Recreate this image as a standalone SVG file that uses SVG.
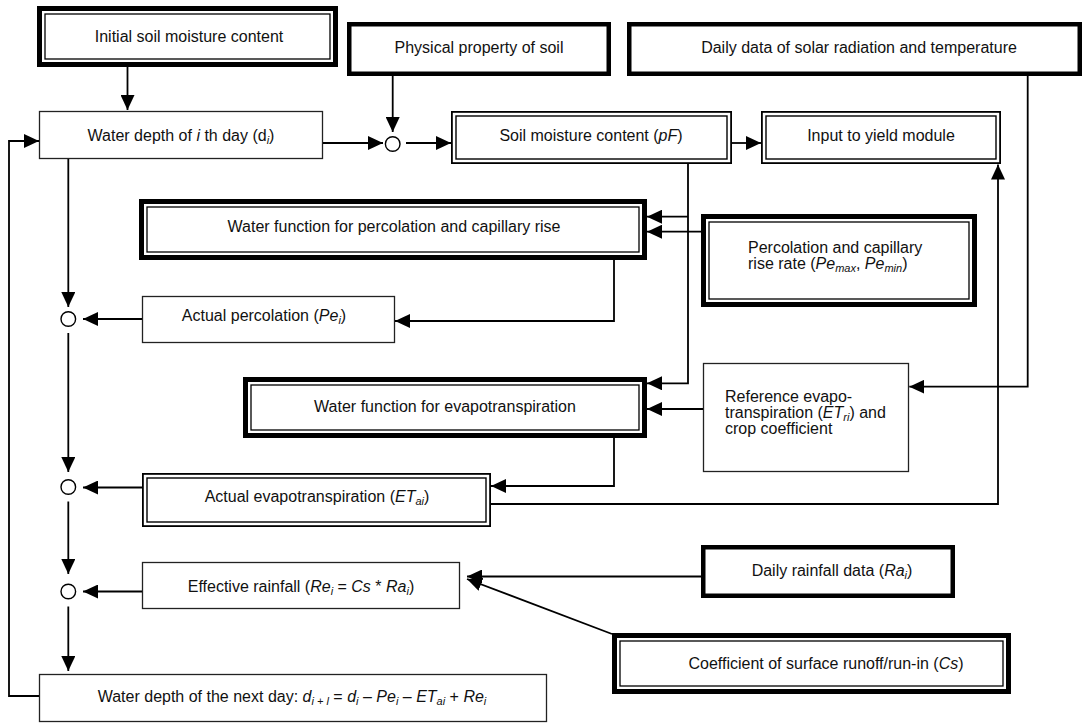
<svg xmlns="http://www.w3.org/2000/svg" width="1085" height="723" viewBox="0 0 1085 723">
<style>
.t{font-family:"Liberation Sans",Arial,sans-serif;font-size:16px;fill:#111;text-anchor:middle}
.l{text-anchor:start}
.i{font-style:italic}
.s{font-size:11px;font-style:italic}
.thin{fill:#fff;stroke:#222;stroke-width:1.3}
.thick{fill:#fff;stroke:#000;stroke-width:4.5}
.tro{fill:#fff;stroke:#000;stroke-width:5}
.tri{fill:none;stroke:#000;stroke-width:1.3}
.dbo{fill:#fff;stroke:#000;stroke-width:1.8}
.dbi{fill:none;stroke:#000;stroke-width:1.4}
.c{fill:none;stroke:#000;stroke-width:1.8;marker-end:url(#ah)}
.j{fill:#fff;stroke:#000;stroke-width:1.4}
</style>
<defs>
<marker id="ah" viewBox="0 0 15 14" refX="15" refY="7" markerWidth="15" markerHeight="14" markerUnits="userSpaceOnUse" orient="auto"><path d="M0,0 L15,7 L0,14 z" fill="#000"/></marker>
</defs>
<rect width="1085" height="723" fill="#fff"/>

<g id="n_initial"><rect class="tro" x="39.5" y="8.5" width="296" height="56"/><rect class="tri" x="45" y="14" width="285" height="45"/><text class="t" x="189" y="42">Initial soil moisture content</text></g>
<g id="n_physical"><rect class="thick" x="349.25" y="24.25" width="259.5" height="49.5"/><text class="t" x="479" y="53">Physical property of soil</text></g>
<g id="n_solar"><rect class="thick" x="629.25" y="24.25" width="450.5" height="49.5"/><text class="t" x="859" y="53">Daily data of solar radiation and temperature</text></g>
<g id="n_depth"><rect class="thin" x="39.5" y="111.5" width="283" height="47"/><text class="t" x="181" y="141">Water depth of <tspan class="i">i</tspan> th day (d<tspan class="s" dy="3">i</tspan><tspan dy="-3">)</tspan></text></g>
<g id="n_soil"><rect class="dbo" x="451.9" y="111.9" width="279.2" height="51.2"/><rect class="dbi" x="456" y="116" width="271" height="43"/><text class="t" x="591" y="141">Soil moisture content (<tspan class="i">pF</tspan>)</text></g>
<g id="n_yield"><rect class="dbo" x="761.9" y="111.9" width="238.2" height="51.2"/><rect class="dbi" x="766" y="116" width="230" height="43"/><text class="t" x="881" y="141">Input to yield module</text></g>
<g id="n_wfperc"><rect class="tro" x="141.5" y="201.5" width="503" height="56"/><rect class="tri" x="147" y="207" width="492" height="45"/><text class="t" x="394" y="232">Water function for percolation and capillary rise</text></g>
<g id="n_percrate"><rect class="tro" x="703.5" y="216.5" width="271" height="88"/><rect class="tri" x="709" y="222" width="260" height="77"/><text class="t l" x="748" y="253">Percolation and capillary</text><text class="t l" x="748" y="269">rise rate (<tspan class="i">Pe</tspan><tspan class="s" dy="3">max</tspan><tspan dy="-3">, </tspan><tspan class="i">Pe</tspan><tspan class="s" dy="3">min</tspan><tspan dy="-3">)</tspan></text></g>
<g id="n_actperc"><rect class="thin" x="142.5" y="296.5" width="252" height="46"/><text class="t" x="264" y="321">Actual percolation (<tspan class="i">Pe</tspan><tspan class="s" dy="3">i</tspan><tspan dy="-3">)</tspan></text></g>
<g id="n_wfet"><rect class="tro" x="245.5" y="379.5" width="399" height="56"/><rect class="tri" x="251" y="385" width="388" height="45"/><text class="t" x="445" y="412">Water function for evapotranspiration</text></g>
<g id="n_ref"><rect class="thin" x="703.5" y="363.5" width="205" height="108"/><text class="t l" x="725" y="402">Reference evapo-</text><text class="t l" x="725" y="418">transpiration (<tspan class="i">ET</tspan><tspan class="s" dy="3">ri</tspan><tspan dy="-3">) and</tspan></text><text class="t l" x="725" y="434">crop coefficient</text></g>
<g id="n_actet"><rect class="dbo" x="142.9" y="473.9" width="347.2" height="52.2"/><rect class="dbi" x="147" y="478" width="339" height="44"/><text class="t" x="317" y="502">Actual evapotranspiration (<tspan class="i">ET</tspan><tspan class="s" dy="3">ai</tspan><tspan dy="-3">)</tspan></text></g>
<g id="n_effrain"><rect class="thin" x="142.5" y="562.5" width="317" height="46"/><text class="t" x="301" y="592">Effective rainfall (<tspan class="i">Re</tspan><tspan class="s" dy="3">i</tspan><tspan dy="-3"> = </tspan><tspan class="i">Cs</tspan> * <tspan class="i">Ra</tspan><tspan class="s" dy="3">i</tspan><tspan dy="-3">)</tspan></text></g>
<g id="n_rainfall"><rect class="thick" x="703.25" y="547.25" width="249.5" height="48.5"/><text class="t" x="832" y="576">Daily rainfall data (<tspan class="i">Ra</tspan><tspan class="s" dy="3">i</tspan><tspan dy="-3">)</tspan></text></g>
<g id="n_coef"><rect class="tro" x="614.5" y="635.5" width="394" height="56"/><rect class="tri" x="620" y="641" width="383" height="45"/><text class="t" x="826" y="669">Coefficient of surface runoff/run-in (<tspan class="i">Cs</tspan>)</text></g>
<g id="n_next"><rect class="thin" x="39.5" y="674.5" width="507" height="47"/><text class="t" x="292" y="702">Water depth of the next day: <tspan class="i">d</tspan><tspan class="s" dy="3">i + l</tspan><tspan dy="-3"> = </tspan><tspan class="i">d</tspan><tspan class="s" dy="3">i</tspan><tspan dy="-3"> – </tspan><tspan class="i">Pe</tspan><tspan class="s" dy="3">i</tspan><tspan dy="-3"> – </tspan><tspan class="i">ET</tspan><tspan class="s" dy="3">ai</tspan><tspan dy="-3"> + </tspan><tspan class="i">Re</tspan><tspan class="s" dy="3">i</tspan></text></g>

<g id="j1"><circle class="j" cx="392.7" cy="144" r="7.3"/></g>
<g id="j2"><circle class="j" cx="68.3" cy="319" r="7.3"/></g>
<g id="j3"><circle class="j" cx="68.3" cy="487" r="7.3"/></g>
<g id="j4"><circle class="j" cx="68.3" cy="591.5" r="7.3"/></g>

<g id="connectors">
<path class="c" d="M127.5,67 V110"/>
<path class="c" d="M392.7,76 V132"/>
<path class="c" d="M323,143 H383"/>
<path class="c" d="M406,143 H451"/>
<path class="c" d="M732,143 H761"/>
<path class="c" d="M688,164 V383.3 H647"/>
<path class="c" d="M688,216.7 H647"/>
<path class="c" d="M701,231.7 H647"/>
<path class="c" d="M614,260 V321 H395"/>
<path class="c" d="M142,319 H83"/>
<path class="c" d="M68.3,159 V307"/>
<path class="c" d="M68.3,333 V472"/>
<path class="c" d="M703,409 H647"/>
<path class="c" d="M1027.7,76 V386.7 H909.3"/>
<path class="c" d="M614,438 V486 H491"/>
<path class="c" d="M142,487.5 H83"/>
<path class="c" d="M491,504 H998 V164.5"/>
<path class="c" d="M68.3,501.5 V574"/>
<path class="c" d="M142,591.5 H83"/>
<path class="c" d="M68.3,606.5 V671"/>
<path class="c" d="M701,576.5 H467"/>
<path class="c" d="M612,634 L467,579"/>
<path class="c" d="M39,696 H9 V141 H39"/>
</g>
</svg>
